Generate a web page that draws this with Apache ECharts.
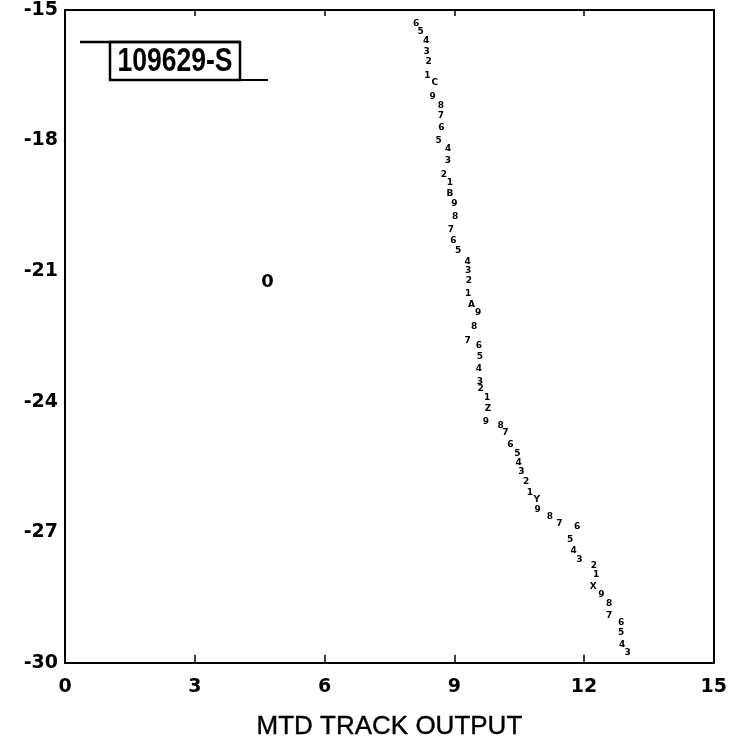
<!DOCTYPE html>
<html>
<head>
<meta charset="utf-8">
<style>
html,body{margin:0;padding:0;background:#fff;}
#chart{width:730px;height:745px;}
</style>
<script src="https://cdn.jsdelivr.net/npm/echarts@6/dist/echarts.min.js"></script>
</head>
<body>
<div id="chart"></div>
<script>
// Track marks, top to bottom
const trackX = [8.12,8.22,8.35,8.36,8.41,8.38,8.55,8.50,8.69,8.69,8.70,8.64,8.86,8.85,8.76,8.90,8.90,9.00,9.02,8.92,8.98,9.09,9.31,9.32,9.34,9.32,9.40,9.55,9.46,9.31,9.57,9.59,9.57,9.59,9.61,9.76,9.78,9.73,10.07,10.18,10.30,10.46,10.49,10.55,10.66,10.75,10.91,10.93,11.21,11.43,11.84,11.68,11.76,11.89,12.23,12.28,12.21,12.40,12.58,12.58,12.86,12.86,12.88,13.01];
const trackY = [-15.31,-15.50,-15.70,-15.96,-16.19,-16.51,-16.68,-16.99,-17.19,-17.43,-17.70,-18.01,-18.18,-18.46,-18.78,-18.97,-19.22,-19.45,-19.75,-20.05,-20.30,-20.54,-20.79,-21.00,-21.23,-21.52,-21.77,-21.96,-22.28,-22.59,-22.71,-22.97,-23.24,-23.53,-23.70,-23.91,-24.16,-24.46,-24.56,-24.72,-24.98,-25.19,-25.40,-25.60,-25.83,-26.10,-26.25,-26.47,-26.64,-26.81,-26.88,-27.18,-27.42,-27.64,-27.77,-27.98,-28.24,-28.44,-28.65,-28.92,-29.07,-29.31,-29.59,-29.77];
const trackLabels = ['6','5','4','3','2','1','C','9','8','7','6','5','4','3','2','1','B','9','8','7','6','5','4','3','2','1','A','9','8','7','6','5','4','3','2','1','Z','9','8','7','6','5','4','3','2','1','Y','9','8','7','6','5','4','3','2','1','X','9','8','7','6','5','4','3'];
// Start marker
const startX = [4.68];
const startY = [-21.26];
const startLabels = ['0'];
// Axes
const xTicks = [0,3,6,9,12,15];
const yTicks = [-15,-18,-21,-24,-27,-30];
const xTitle = 'MTD TRACK OUTPUT';
const boxText = '109629-S';

const trackData = trackX.map((x,i)=>[x, trackY[i], trackLabels[i]]);
const startData = startX.map((x,i)=>[x, startY[i], startLabels[i]]);

const chart = echarts.init(document.getElementById('chart'), null, {renderer:'canvas'});
const axisFont = {fontFamily:'DejaVu Sans', fontWeight:'bold', fontSize:19, color:'#000'};
chart.setOption({
  animation:false,
  backgroundColor:'#fff',
  grid:{left:65, right:8, top:10, bottom:81, containLabel:false},
  xAxis:[{
    type:'value', min:0, max:15, interval:3,
    name:xTitle, nameLocation:'middle', nameGap:51,
    nameTextStyle:{fontFamily:'Liberation Sans', fontSize:26, color:'#000', textBorderColor:'#000', textBorderWidth:0.4},
    axisLine:{show:true, onZero:false, lineStyle:{color:'#000', width:2}},
    axisTick:{show:true, inside:true, length:8, lineStyle:{color:'#000', width:1.5}},
    axisLabel:Object.assign({margin:15}, axisFont),
    splitLine:{show:false}
  },{
    type:'value', min:0, max:15, interval:3, position:'top',
    axisLine:{show:true, onZero:false, lineStyle:{color:'#000', width:2}},
    axisTick:{show:true, inside:true, length:6, lineStyle:{color:'#000', width:1.5}},
    axisLabel:{show:false}, splitLine:{show:false}
  }],
  yAxis:[{
    type:'value', min:-30, max:-15, interval:3,
    axisLine:{show:true, onZero:false, lineStyle:{color:'#000', width:2}},
    axisTick:{show:false},
    axisLabel:Object.assign({margin:7}, axisFont),
    splitLine:{show:false}
  },{
    type:'value', min:-30, max:-15, interval:3, position:'right',
    axisLine:{show:true, onZero:false, lineStyle:{color:'#000', width:2}},
    axisTick:{show:false}, axisLabel:{show:false}, splitLine:{show:false}
  }],
  series:[{
    type:'scatter', data:trackData, symbolSize:6,
    itemStyle:{color:'rgba(0,0,0,0)', opacity:1},
    label:{show:true, position:'inside', formatter:p=>p.data[2],
      fontFamily:'DejaVu Sans', fontWeight:'bold', fontSize:9, color:'#000'}
  },{
    type:'scatter', data:startData, symbolSize:10,
    itemStyle:{color:'rgba(0,0,0,0)', opacity:1},
    label:{show:true, position:'inside', formatter:p=>p.data[2],
      fontFamily:'DejaVu Sans', fontWeight:'bold', fontSize:18, color:'#000'}
  }],
  graphic:[
    {type:'line', shape:{x1:80, y1:42, x2:240, y2:42}, style:{stroke:'#000', lineWidth:2.5}},
    {type:'rect', shape:{x:110, y:42, width:130, height:38}, style:{fill:'none', stroke:'#000', lineWidth:2.5}},
    {type:'line', shape:{x1:240, y1:80, x2:268, y2:80}, style:{stroke:'#000', lineWidth:2}},
    {type:'text', x:175, y:62, scaleX:0.78, style:{text:boxText, fontFamily:'Liberation Sans', fontWeight:'bold', fontSize:34, fill:'#000', align:'center', verticalAlign:'middle'}}
  ]
});
</script>
</body>
</html>
